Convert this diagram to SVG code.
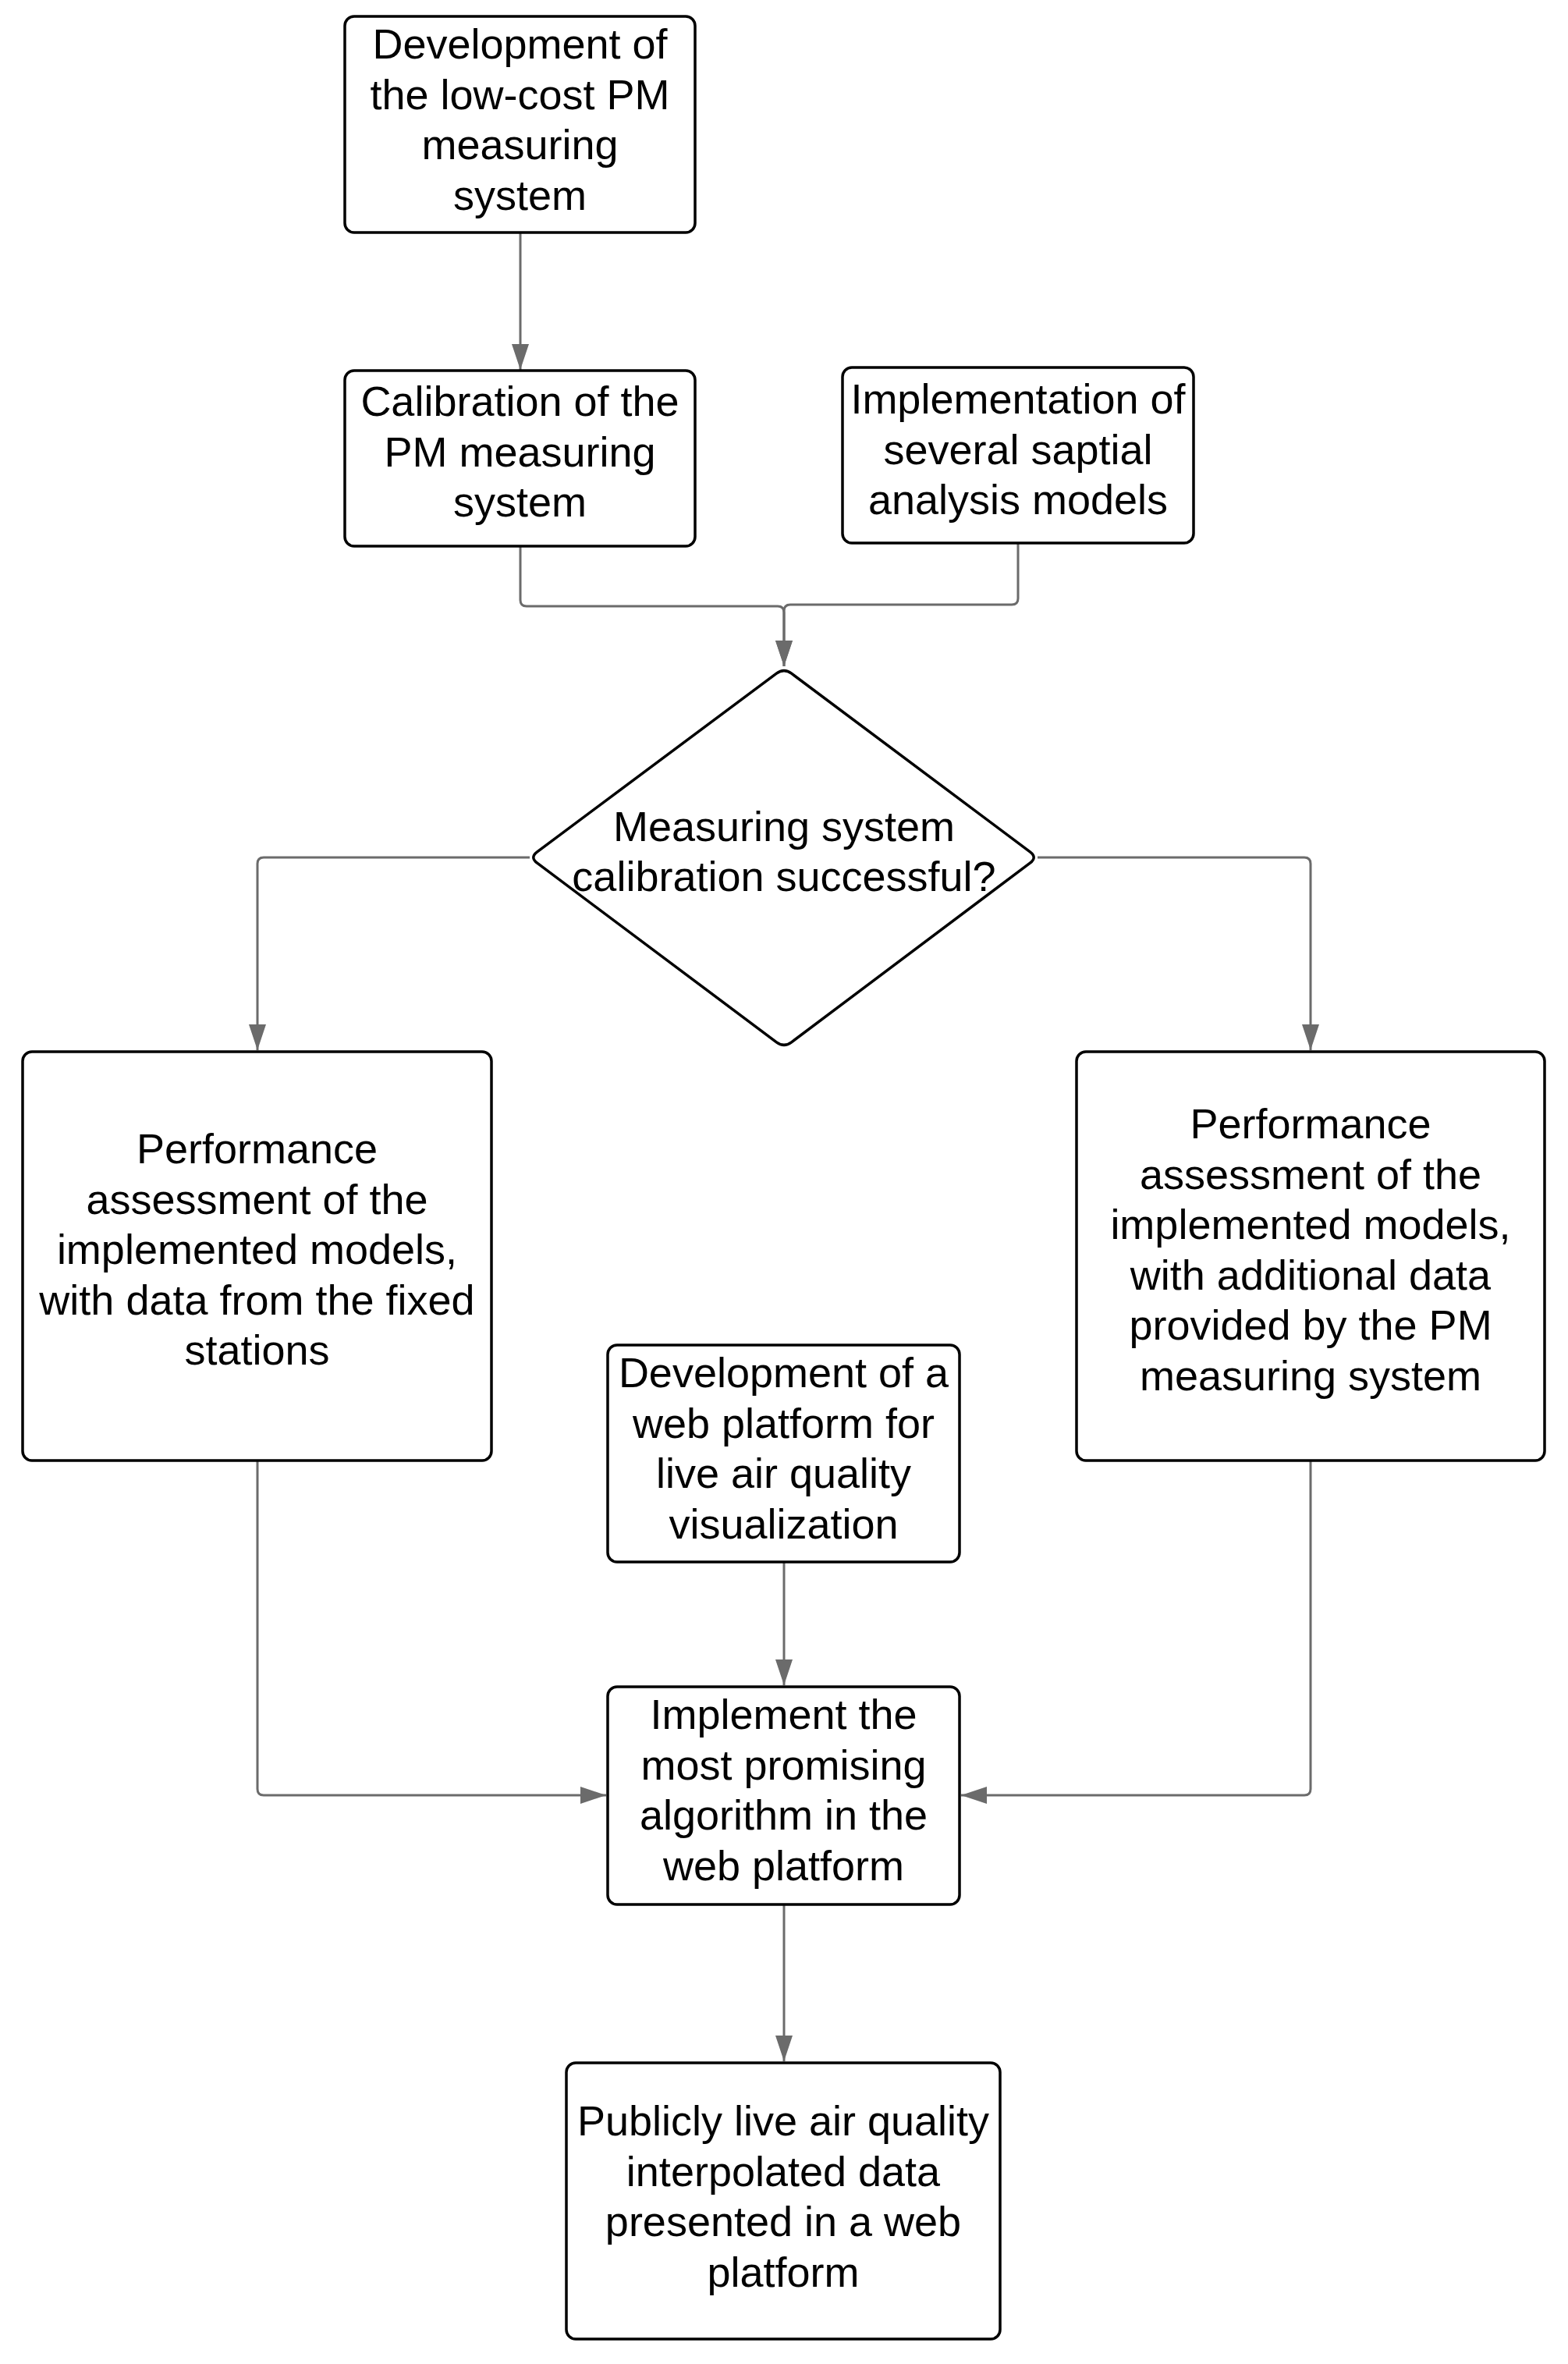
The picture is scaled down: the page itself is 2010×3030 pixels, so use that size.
<svg xmlns="http://www.w3.org/2000/svg" width="2010" height="3030" viewBox="0 0 2010 3030">
<style>
  .box { fill: #ffffff; stroke: #000000; stroke-width: 3.5; }
  .lbl { font-family: "Liberation Sans", Arial, sans-serif; font-size: 54px; fill: #000000; text-anchor: middle; }
  .conn { fill: none; stroke: #6b6b6b; stroke-width: 3; stroke-linejoin: round; }
</style>
<defs>
  <marker id="arrow" markerUnits="userSpaceOnUse" markerWidth="34" markerHeight="24" refX="33" refY="11" orient="auto">
    <path d="M0,0 L33,11 L0,22 Z" fill="#6b6b6b"/>
  </marker>
</defs>
<rect width="2010" height="3030" fill="#ffffff"/>

<g id="connectors">
  <path class="conn" marker-end="url(#arrow)" d="M667,298 L667,474"/>
  <path class="conn" marker-end="url(#arrow)" d="M667,700 L667,769 Q667,777 675,777 L997,777 Q1005,777 1005,785 L1005,854"/>
  <path class="conn" marker-end="url(#arrow)" d="M1305,696 L1305,767 Q1305,775 1297,775 L1013,775 Q1005,775 1005,783 L1005,854"/>
  <path class="conn" marker-end="url(#arrow)" d="M679,1099 L338,1099 Q330,1099 330,1107 L330,1346"/>
  <path class="conn" marker-end="url(#arrow)" d="M1330,1099 L1672,1099 Q1680,1099 1680,1107 L1680,1346"/>
  <path class="conn" marker-end="url(#arrow)" d="M330,1872 L330,2293 Q330,2301 338,2301 L777,2301"/>
  <path class="conn" marker-end="url(#arrow)" d="M1680,1872 L1680,2293 Q1680,2301 1672,2301 L1232,2301"/>
  <path class="conn" marker-end="url(#arrow)" d="M1005,2002 L1005,2160"/>
  <path class="conn" marker-end="url(#arrow)" d="M1005,2441 L1005,2642"/>
</g>

<g id="node-dev-pm">
  <rect class="box" x="442" y="21" width="449" height="277" rx="12"/>
  <text class="lbl" x="666.5" y="75">Development of</text>
  <text class="lbl" x="666.5" y="139.5">the low-cost PM</text>
  <text class="lbl" x="666.5" y="204">measuring</text>
  <text class="lbl" x="666.5" y="268.5">system</text>
</g>

<g id="node-calibration">
  <rect class="box" x="442" y="475" width="449" height="225" rx="12"/>
  <text class="lbl" x="666.5" y="533">Calibration of the</text>
  <text class="lbl" x="666.5" y="597.5">PM measuring</text>
  <text class="lbl" x="666.5" y="662">system</text>
</g>

<g id="node-implementation">
  <rect class="box" x="1080" y="471" width="450" height="225" rx="12"/>
  <text class="lbl" x="1305" y="530">Implementation of</text>
  <text class="lbl" x="1305" y="594.5">several saptial</text>
  <text class="lbl" x="1305" y="659">analysis models</text>
</g>

<g id="node-decision">
  <path class="box" d="M995.4,863.2 Q1005,856 1014.6,863.2 L1320.4,1091.8 Q1330,1099 1320.4,1106.2 L1014.6,1335.8 Q1005,1343 995.4,1335.8 L688.6,1106.2 Q679,1099 688.6,1091.8 Z"/>
  <text class="lbl" x="1005" y="1078">Measuring system</text>
  <text class="lbl" x="1005" y="1142">calibration successful?</text>
</g>

<g id="node-perf-fixed">
  <rect class="box" x="29" y="1348" width="601" height="524" rx="12"/>
  <text class="lbl" x="329.5" y="1491">Performance</text>
  <text class="lbl" x="329.5" y="1555.5">assessment of the</text>
  <text class="lbl" x="329.5" y="1620">implemented models,</text>
  <text class="lbl" x="329.5" y="1684.5">with data from the fixed</text>
  <text class="lbl" x="329.5" y="1749">stations</text>
</g>

<g id="node-perf-additional">
  <rect class="box" x="1380" y="1348" width="600" height="524" rx="12"/>
  <text class="lbl" x="1680" y="1459">Performance</text>
  <text class="lbl" x="1680" y="1523.5">assessment of the</text>
  <text class="lbl" x="1680" y="1588">implemented models,</text>
  <text class="lbl" x="1680" y="1652.5">with additional data</text>
  <text class="lbl" x="1680" y="1717">provided by the PM</text>
  <text class="lbl" x="1680" y="1781.5">measuring system</text>
</g>

<g id="node-web-dev">
  <rect class="box" x="779" y="1724" width="451" height="278" rx="12"/>
  <text class="lbl" x="1004.5" y="1778">Development of a</text>
  <text class="lbl" x="1004.5" y="1842.5">web platform for</text>
  <text class="lbl" x="1004.5" y="1907">live air quality</text>
  <text class="lbl" x="1004.5" y="1971.5">visualization</text>
</g>

<g id="node-implement-algo">
  <rect class="box" x="779" y="2162" width="451" height="279" rx="12"/>
  <text class="lbl" x="1004.5" y="2216">Implement the</text>
  <text class="lbl" x="1004.5" y="2280.5">most promising</text>
  <text class="lbl" x="1004.5" y="2345">algorithm in the</text>
  <text class="lbl" x="1004.5" y="2409.5">web platform</text>
</g>

<g id="node-public">
  <rect class="box" x="726" y="2644" width="556" height="354" rx="12"/>
  <text class="lbl" x="1004" y="2737">Publicly live air quality</text>
  <text class="lbl" x="1004" y="2801.5">interpolated data</text>
  <text class="lbl" x="1004" y="2866">presented in a web</text>
  <text class="lbl" x="1004" y="2930.5">platform</text>
</g>
</svg>
